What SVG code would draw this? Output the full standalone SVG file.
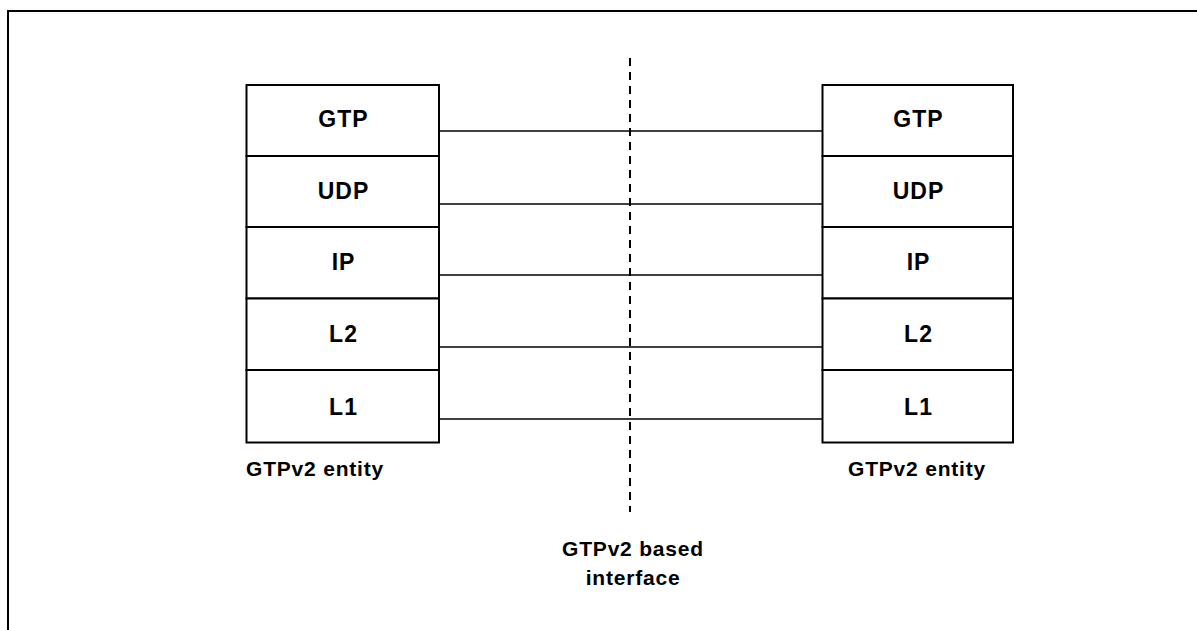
<svg xmlns="http://www.w3.org/2000/svg" width="1197" height="630" viewBox="0 0 1197 630">
  <style>
    .frame { fill: none; stroke: #000; stroke-width: 2; }
    .box { fill: #fff; stroke: #000; stroke-width: 2; }
    .conn { stroke: #000; stroke-width: 1.5; fill: none; }
    .dash { stroke: #000; stroke-width: 2; stroke-dasharray: 8 6; fill: none; }
    .t { font-family: "Liberation Sans", Arial, sans-serif; font-weight: bold; font-size: 23px; letter-spacing: 1px; fill: #000; }
    .lbl { font-family: "Liberation Sans", Arial, sans-serif; font-weight: bold; font-size: 21px; letter-spacing: 0.8px; fill: #000; }
    .c { text-anchor: middle; }
  </style>
  <rect width="1197" height="630" fill="#fff"/>
  <rect class="frame" x="8" y="11" width="1300" height="700"/>

  <g id="left-stack">
    <rect class="box" x="246.5" y="85" width="192.5" height="71"/>
    <rect class="box" x="246.5" y="156" width="192.5" height="71"/>
    <rect class="box" x="246.5" y="227" width="192.5" height="71.5"/>
    <rect class="box" x="246.5" y="298.5" width="192.5" height="71.5"/>
    <rect class="box" x="246.5" y="370" width="192.5" height="72.5"/>
    <text class="t c" x="343.5" y="127">GTP</text>
    <text class="t c" x="343.5" y="199">UDP</text>
    <text class="t c" x="343.5" y="270">IP</text>
    <text class="t c" x="343.5" y="342">L2</text>
    <text class="t c" x="343.5" y="415">L1</text>
  </g>

  <g id="right-stack">
    <rect class="box" x="822.5" y="85" width="190.5" height="71"/>
    <rect class="box" x="822.5" y="156" width="190.5" height="71"/>
    <rect class="box" x="822.5" y="227" width="190.5" height="71.5"/>
    <rect class="box" x="822.5" y="298.5" width="190.5" height="71.5"/>
    <rect class="box" x="822.5" y="370" width="190.5" height="72.5"/>
    <text class="t c" x="918.5" y="127">GTP</text>
    <text class="t c" x="918.5" y="199">UDP</text>
    <text class="t c" x="918.5" y="270">IP</text>
    <text class="t c" x="918.5" y="342">L2</text>
    <text class="t c" x="918.5" y="415">L1</text>
  </g>

  <g id="connectors">
    <line class="conn" x1="439" y1="131" x2="822.5" y2="131"/>
    <line class="conn" x1="439" y1="204" x2="822.5" y2="204"/>
    <line class="conn" x1="439" y1="275" x2="822.5" y2="275"/>
    <line class="conn" x1="439" y1="347" x2="822.5" y2="347"/>
    <line class="conn" x1="439" y1="419" x2="822.5" y2="419"/>
    <line class="dash" x1="630" y1="58" x2="630" y2="512"/>
  </g>

  <g id="labels">
    <text class="lbl" x="246" y="476">GTPv2 entity</text>
    <text class="lbl" x="848" y="476">GTPv2 entity</text>
    <text class="lbl c" x="633" y="556">GTPv2 based</text>
    <text class="lbl c" x="633" y="585">interface</text>
  </g>
</svg>
